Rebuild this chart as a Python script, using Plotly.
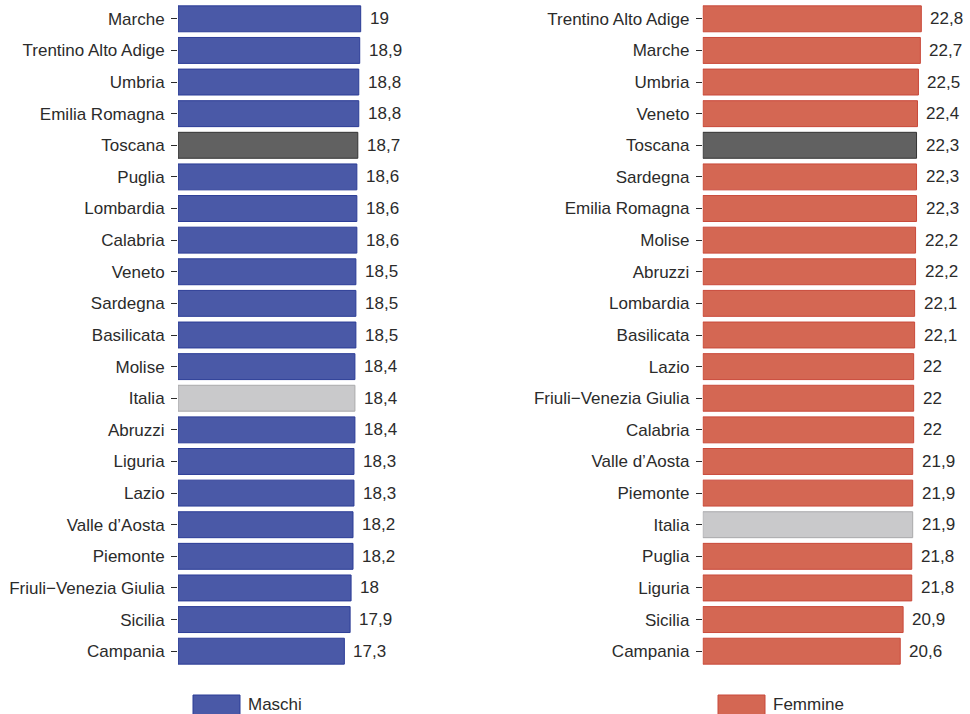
import plotly.graph_objects as go

maschi_regioni = [
    "Marche", "Trentino Alto Adige", "Umbria", "Emilia Romagna", "Toscana",
    "Puglia", "Lombardia", "Calabria", "Veneto", "Sardegna", "Basilicata",
    "Molise", "Italia", "Abruzzi", "Liguria", "Lazio", "Valle d’Aosta",
    "Piemonte", "Friuli−Venezia Giulia", "Sicilia", "Campania",
]
maschi_valori = [19, 18.9, 18.8, 18.8, 18.7, 18.6, 18.6, 18.6, 18.5, 18.5, 18.5,
                 18.4, 18.4, 18.4, 18.3, 18.3, 18.2, 18.2, 18, 17.9, 17.3]

femmine_regioni = [
    "Trentino Alto Adige", "Marche", "Umbria", "Veneto", "Toscana", "Sardegna",
    "Emilia Romagna", "Molise", "Abruzzi", "Lombardia", "Basilicata", "Lazio",
    "Friuli−Venezia Giulia", "Calabria", "Valle d’Aosta", "Piemonte", "Italia",
    "Puglia", "Liguria", "Sicilia", "Campania",
]
femmine_valori = [22.8, 22.7, 22.5, 22.4, 22.3, 22.3, 22.3, 22.2, 22.2, 22.1, 22.1,
                  22, 22, 22, 21.9, 21.9, 21.9, 21.8, 21.8, 20.9, 20.6]

BLU, BLU_BORDO = "#4a59a7", "#2b3c96"
ROSSO, ROSSO_BORDO = "#d46753", "#c9493a"
TOSCANA, TOSCANA_BORDO = "#616161", "#333333"
ITALIA, ITALIA_BORDO = "#c9c9cb", "#a9a9ab"
FONT = "Liberation Sans, Arial, sans-serif"
TXT = "#2b2b2b"
FS = 17


def colori(regioni, base, bordo):
    fill, line = [], []
    for r in regioni:
        if r == "Toscana":
            fill.append(TOSCANA); line.append(TOSCANA_BORDO)
        elif r == "Italia":
            fill.append(ITALIA); line.append(ITALIA_BORDO)
        else:
            fill.append(base); line.append(bordo)
    return fill, line


def fmt(v):
    return f"{v:g}".replace(".", ",")


fig = go.Figure()

f1, l1 = colori(maschi_regioni, BLU, BLU_BORDO)
fig.add_trace(go.Bar(x=maschi_valori, y=maschi_regioni, orientation="h",
                     marker=dict(color=f1, line=dict(color=l1, width=1)),
                     xaxis="x", yaxis="y", showlegend=False, hoverinfo="x+y"))

f2, l2 = colori(femmine_regioni, ROSSO, ROSSO_BORDO)
fig.add_trace(go.Bar(x=femmine_valori, y=femmine_regioni, orientation="h",
                     marker=dict(color=f2, line=dict(color=l2, width=1)),
                     xaxis="x2", yaxis="y2", showlegend=False, hoverinfo="x+y"))

annotations = []
for r, v in zip(maschi_regioni, maschi_valori):
    annotations.append(dict(x=v, y=r, xref="x", yref="y", text=fmt(v), showarrow=False,
                            xanchor="left", xshift=7, font=dict(size=FS, color=TXT)))
for r, v in zip(femmine_regioni, femmine_valori):
    annotations.append(dict(x=v, y=r, xref="x2", yref="y2", text=fmt(v), showarrow=False,
                            xanchor="left", xshift=7, font=dict(size=FS, color=TXT)))

# legenda disegnata a mano (rettangoli larghi come nell'originale)
W, H, ML, MT, MB = 970, 714, 178, 3, 47
PW, PH = W - ML - 18, H - MT - MB


def px_x(p):
    return (p - ML) / PW


def px_y(p):
    return (H - MB - p) / PH


shapes = []
for x0, col, bordo, nome in [(193, BLU, BLU_BORDO, "Maschi"), (718, ROSSO, ROSSO_BORDO, "Femmine")]:
    shapes.append(dict(type="rect", xref="paper", yref="paper",
                       x0=px_x(x0), x1=px_x(x0 + 47), y0=px_y(695), y1=px_y(716),
                       fillcolor=col, line=dict(color=bordo, width=1)))
    annotations.append(dict(x=px_x(x0 + 53), y=px_y(704.5), xref="paper", yref="paper",
                            text=nome, showarrow=False, xanchor="left", yanchor="middle",
                            font=dict(size=FS, color=TXT)))

asse_y = dict(autorange="reversed", ticks="outside", ticklen=6, tickcolor=TXT,
              tickwidth=1, showline=False, showgrid=False, zeroline=False,
              tickfont=dict(size=FS, color=TXT), ticklabelstandoff=3)
asse_x = dict(visible=False, showgrid=False, zeroline=False)

fig.update_layout(
    width=W, height=H,
    margin=dict(l=ML, r=18, t=MT, b=MB),
    paper_bgcolor="white", plot_bgcolor="white",
    font=dict(family=FONT, color=TXT, size=FS),
    bargap=0.18,
    xaxis=dict(asse_x, domain=[0, 0.323], range=[0, 26]),
    xaxis2=dict(asse_x, domain=[0.678, 1], range=[0, 26]),
    yaxis=dict(asse_y, anchor="x", categoryorder="array", categoryarray=maschi_regioni),
    yaxis2=dict(asse_y, anchor="x2", categoryorder="array", categoryarray=femmine_regioni),
    annotations=annotations,
    shapes=shapes,
    showlegend=False,
)

fig.write_html("out.html", config={"displayModeBar": False},
               post_script="document.body.style.margin='0';")
